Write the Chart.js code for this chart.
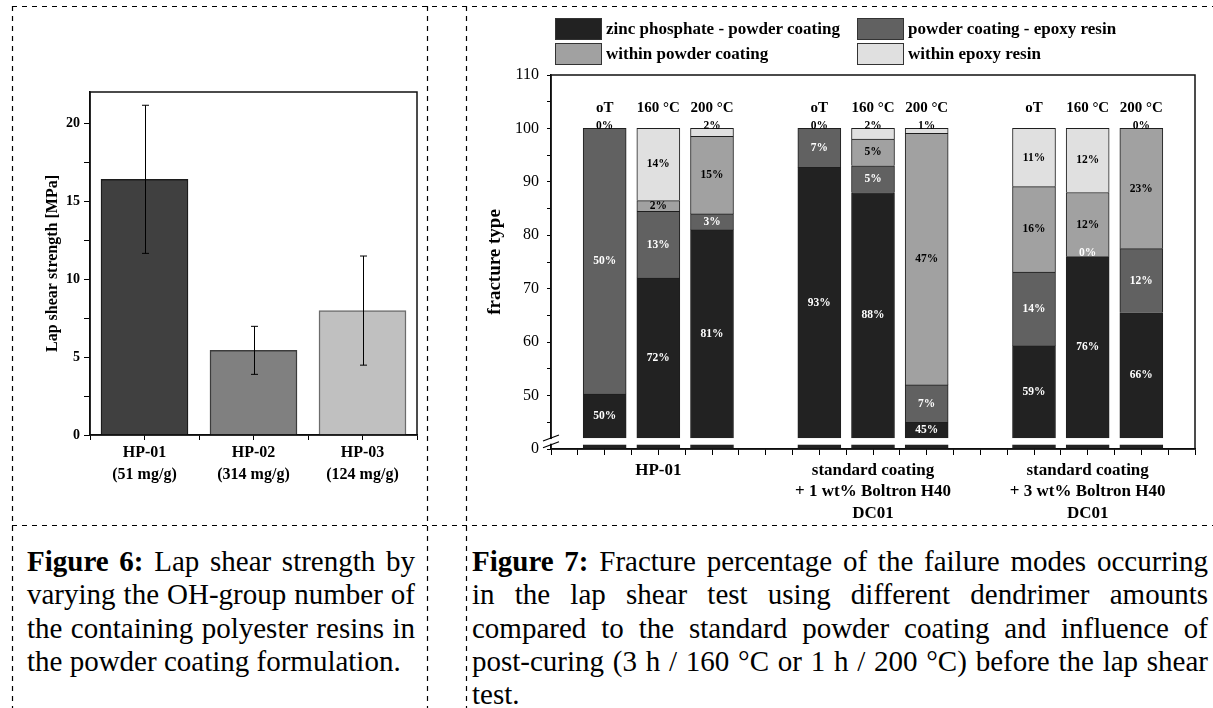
<!DOCTYPE html>
<html>
<head>
<meta charset="utf-8">
<title>Lap shear strength and fracture types</title>
<script src="https://cdn.jsdelivr.net/npm/chart.js@4.4.1/dist/chart.umd.min.js"></script>
<style>
  html, body { margin: 0; padding: 0; background: #fff; }
  body { position: relative; width: 1213px; height: 708px; overflow: hidden;
         font-family: "Liberation Serif", "Times New Roman", serif; color: #000; }
  canvas { position: absolute; top: 0; }
  #lapChart { left: 0; }
  #fractureChart { left: 466px; }
  #legend .box { position: absolute; width: 45px; height: 20px; border: 1px solid #333; }
  #legend .txt { position: absolute; font-weight: bold; font-size: 17px; line-height: 22px; white-space: nowrap; }
  .caption { position: absolute; top: 545px; font-size: 29px; line-height: 33.3px; }
  .caption div { text-align: justify; text-align-last: justify; }
  .caption div.last { text-align: left; text-align-last: left; }
  #frames { position: absolute; left: 0; top: 0; pointer-events: none; }
</style>
</head>
<body>
<canvas id="lapChart" width="440" height="526"></canvas>
<canvas id="fractureChart" width="747" height="526"></canvas>
<div id="legend"></div>

<div class="caption" style="left:27px;width:388px">
  <div><b>Figure 6:</b> Lap shear strength by</div>
  <div>varying the OH-group number of</div>
  <div>the containing polyester resins in</div>
  <div class="last">the powder coating formulation.</div>
</div>
<div class="caption" style="left:472px;width:736px">
  <div><b>Figure 7:</b> Fracture percentage of the failure modes occurring</div>
  <div>in the lap shear test using different dendrimer amounts</div>
  <div>compared to the standard powder coating and influence of</div>
  <div>post-curing (3 h / 160 °C or 1 h / 200 °C) before the lap shear</div>
  <div class="last">test.</div>
</div>

<svg id="frames" width="1213" height="708">
  <g stroke="#000" stroke-width="1.2" stroke-dasharray="5 5" fill="none">
    <line x1="12" y1="6.5" x2="1213" y2="6.5"/>
    <line x1="12" y1="525.5" x2="1213" y2="525.5"/>
    <line x1="12.5" y1="6" x2="12.5" y2="708"/>
    <line x1="427.5" y1="6" x2="427.5" y2="708"/>
    <line x1="466.5" y1="6" x2="466.5" y2="708"/>
  </g>
</svg>

<script>
// Figure 6: lap shear strength per resin
const resins = [['HP-01', '(51 mg/g)'], ['HP-02', '(314 mg/g)'], ['HP-03', '(124 mg/g)']];
const lapShear = [16.4, 5.43, 7.98];
const lapShearSd = [4.75, 1.54, 3.5];
const resinFill = ['#404040', '#808080', '#c0c0c0'];
const resinEdge = ['#1c1c1c', '#3c3c3c', '#6c6c6c'];

// Figure 7: fracture type shares (%) per sample
const positions = [1, 2, 3, 5, 6, 7, 9, 10, 11];
const conditions = ['oT', '160 °C', '200 °C', 'oT', '160 °C', '200 °C', 'oT', '160 °C', '200 °C'];
const groupTicks = [2, 6, 10];
const groupNames = [
  ['HP-01'],
  ['standard coating', '+ 1 wt% Boltron H40', 'DC01'],
  ['standard coating', '+ 3 wt% Boltron H40', 'DC01']
];
const modeNames = ['zinc phosphate - powder coating', 'powder coating - epoxy resin',
                   'within powder coating', 'within epoxy resin'];
const modeColors = ['#222222', '#616161', '#a1a1a1', '#e0e0e0'];

const zincPowder   = [50.3, 72,   81,   92.7, 88, 45,   59.3, 76, 65.5];
const powderEpoxy  = [49.7, 12.5, 3,    7.3,  5,  7,    13.8, 0,  12];
const withinPowder = [0,    2,    14.5, 0,    5,  47.1, 16,   12, 22.5];
const withinEpoxy  = [0,    13.5, 1.5,  0,    2,  0.9,  10.9, 12, 0];

const zincLabels   = ['50%', '72%', '81%', '93%', '88%', '45%', '59%', '76%', '66%'];
const powderEpoxyLabels  = ['50%', '13%', '3%', '7%', '5%', '7%', '14%', '0%', '12%'];
const withinPowderLabels = ['', '2%', '15%', '', '5%', '47%', '16%', '12%', '23%'];
const withinEpoxyLabels  = ['0%', '14%', '2%', '0%', '2%', '1%', '11%', '12%', '0%'];

const modes = [zincPowder, powderEpoxy, withinPowder, withinEpoxy];
const modeLabels = [zincLabels, powderEpoxyLabels, withinPowderLabels, withinEpoxyLabels];

// broken y axis: the bottom of the axis stands for 0
const AXIS_FLOOR = 40;
const BREAK_LO = 40.8;
const BREAK_HI = 42.05;
const HEADER_AT = 103.8;

Chart.defaults.font.family = '"Liberation Serif", "Times New Roman", serif';
Chart.defaults.color = '#000';

const frame = {
  id: 'frame',
  afterDraw(chart) {
    const {ctx, chartArea: a} = chart;
    ctx.save();
    ctx.strokeStyle = '#111';
    ctx.lineWidth = 1.5;
    ctx.strokeRect(a.left, a.top, a.right - a.left, a.bottom - a.top);
    ctx.restore();
  }
};

const errorBars = {
  id: 'errorBars',
  afterDatasetsDraw(chart) {
    const {ctx, scales: {y}} = chart;
    ctx.save();
    ctx.strokeStyle = '#000';
    ctx.lineWidth = 1;
    chart.getDatasetMeta(0).data.forEach((bar, i) => {
      const x = Math.round(bar.x) + 0.5;
      const hi = y.getPixelForValue(lapShear[i] + lapShearSd[i]);
      const lo = y.getPixelForValue(lapShear[i] - lapShearSd[i]);
      ctx.beginPath();
      ctx.moveTo(x, hi); ctx.lineTo(x, lo);
      ctx.moveTo(x - 3.5, hi); ctx.lineTo(x + 3.5, hi);
      ctx.moveTo(x - 3.5, lo); ctx.lineTo(x + 3.5, lo);
      ctx.stroke();
    });
    ctx.restore();
  }
};

new Chart(document.getElementById('lapChart'), {
  type: 'bar',
  data: {
    datasets: [{
      data: lapShear.map((v, i) => ({x: i + 1, y: v})),
      backgroundColor: resinFill,
      borderColor: resinEdge,
      borderWidth: 1.5,
      barThickness: 87
    }]
  },
  options: {
    responsive: false,
    animation: false,
    layout: {padding: {top: 92, right: 23, left: 0, bottom: 0}},
    plugins: {legend: {display: false}, tooltip: {enabled: false}},
    scales: {
      x: {
        type: 'linear', min: 0.5, max: 3.5, offset: false,
        grid: {offset: false, drawOnChartArea: false, tickLength: 5, tickColor: '#000'},
        border: {color: '#000', width: 1.5},
        ticks: {
          stepSize: 0.5, autoSkip: false, maxRotation: 0, padding: 2,
          font: {size: 16, weight: 'bold', lineHeight: 1.35},
          callback: v => Number.isInteger(v) ? resins[v - 1] : ''
        },
        afterFit: s => { s.height = 91; }
      },
      y: {
        min: 0, max: 22,
        grid: {drawOnChartArea: false, tickLength: 6, tickColor: '#000'},
        border: {color: '#000', width: 1.5},
        ticks: {
          stepSize: 2.5, includeBounds: false, autoSkip: false, padding: 4,
          font: {size: 14, weight: 'bold'},
          callback: v => v % 5 === 0 ? v : ''
        },
        title: {display: true, text: 'Lap shear strength [MPa]',
                font: {size: 16, weight: 'bold'}, padding: {top: 43, bottom: 0}},
        afterFit: s => { s.width = 90; }
      }
    }
  },
  plugins: [frame, errorBars]
});

const segmentLabels = {
  id: 'segmentLabels',
  afterDatasetsDraw(chart) {
    const {ctx, chartArea: a, scales: {y}} = chart;
    const gapTop = y.getPixelForValue(BREAK_HI);
    const gapBottom = y.getPixelForValue(BREAK_LO);
    ctx.save();
    ctx.fillStyle = '#fff';
    ctx.fillRect(a.left + 1, gapTop, a.right - a.left - 2, gapBottom - gapTop);

    ctx.textAlign = 'center';
    modes.forEach((vals, k) => {
      chart.getDatasetMeta(k).data.forEach((bar, i) => {
        const text = modeLabels[k][i];
        if (!text) return;
        const top = Math.min(bar.y, bar.base);
        const base = Math.min(Math.max(bar.y, bar.base), gapTop);
        ctx.font = 'bold 11.5px "Liberation Serif"';
        if (k === 3 && vals[i] < 3) {
          ctx.fillStyle = '#000';
          ctx.textBaseline = 'alphabetic';
          ctx.fillText(text, bar.x, top + 1);
        } else {
          ctx.fillStyle = k < 2 ? '#fff' : '#000';
          ctx.textBaseline = 'middle';
          const cy = base - top < 2 ? top - 4 : (top + base) / 2;
          ctx.fillText(text, bar.x, cy);
        }
      });
    });

    ctx.font = 'bold 15px "Liberation Serif"';
    ctx.fillStyle = '#000';
    ctx.textBaseline = 'middle';
    const headY = y.getPixelForValue(HEADER_AT);
    chart.getDatasetMeta(0).data.forEach((bar, i) => {
      ctx.fillText(conditions[i], bar.x, headY);
    });
    ctx.restore();
  }
};

const axisBreak = {
  id: 'axisBreak',
  afterDraw(chart) {
    const {ctx, chartArea: a, scales: {y}} = chart;
    const y1 = y.getPixelForValue(BREAK_HI);
    const y2 = y.getPixelForValue(BREAK_LO);
    ctx.save();
    ctx.fillStyle = '#fff';
    ctx.fillRect(a.left - 2, y1 + 1, 4, y2 - y1 - 2);
    ctx.strokeStyle = '#000';
    ctx.lineWidth = 1.2;
    ctx.beginPath();
    [y1, y2].forEach(yy => {
      ctx.moveTo(a.left - 8, yy + 3);
      ctx.lineTo(a.left + 8, yy - 3);
    });
    ctx.stroke();
    ctx.restore();
  }
};

new Chart(document.getElementById('fractureChart'), {
  type: 'bar',
  data: {
    datasets: modes.map((vals, k) => ({
      label: modeNames[k],
      data: vals.map((v, i) => ({x: positions[i], y: v})),
      backgroundColor: modeColors[k],
      borderColor: '#1e1e1e',
      borderWidth: 1,
      borderSkipped: 'start',
      barThickness: 43,
      stack: 'fracture',
      clip: 0
    }))
  },
  options: {
    responsive: false,
    animation: false,
    layout: {padding: {top: 75, right: 18, left: 0, bottom: 0}},
    plugins: {legend: {display: false}, tooltip: {enabled: false}},
    scales: {
      x: {
        type: 'linear', min: 0, max: 12, offset: false,
        grid: {offset: false, drawOnChartArea: false, tickLength: 6, tickColor: '#000'},
        border: {color: '#000', width: 1.5},
        ticks: {
          stepSize: 0.5, autoSkip: false, maxRotation: 0, padding: 5,
          font: {size: 17, weight: 'bold', lineHeight: 1.25},
          callback: v => {
            const g = groupTicks.indexOf(v);
            return g >= 0 ? groupNames[g] : '';
          }
        },
        afterFit: s => { s.height = 77; }
      },
      y: {
        stacked: true, min: AXIS_FLOOR, max: 110,
        grid: {drawOnChartArea: false, tickLength: 4, tickColor: '#000'},
        border: {color: '#000', width: 1.5},
        ticks: {
          stepSize: 5, autoSkip: false, padding: 8,
          font: {size: 16},
          callback: v => v === AXIS_FLOOR ? '0' : (v % 10 === 0 ? v : '')
        },
        title: {display: true, text: 'fracture type',
                font: {size: 19, weight: 'bold'}, padding: {top: 18, bottom: 0}},
        afterFit: s => { s.width = 85; }
      }
    }
  },
  plugins: [segmentLabels, frame, axisBreak]
});

// legend in two columns, built from the series names and colours
const legendSpots = [[555, 18], [857, 18], [555, 43], [857, 43]];
const legend = document.getElementById('legend');
modeNames.forEach((name, k) => {
  const [lx, ly] = legendSpots[k];
  const box = document.createElement('div');
  box.className = 'box';
  box.style.left = lx + 'px';
  box.style.top = ly + 'px';
  box.style.background = modeColors[k];
  const txt = document.createElement('div');
  txt.className = 'txt';
  txt.style.left = (lx + 51) + 'px';
  txt.style.top = ly + 'px';
  txt.textContent = name;
  legend.appendChild(box);
  legend.appendChild(txt);
});
</script>
</body>
</html>
